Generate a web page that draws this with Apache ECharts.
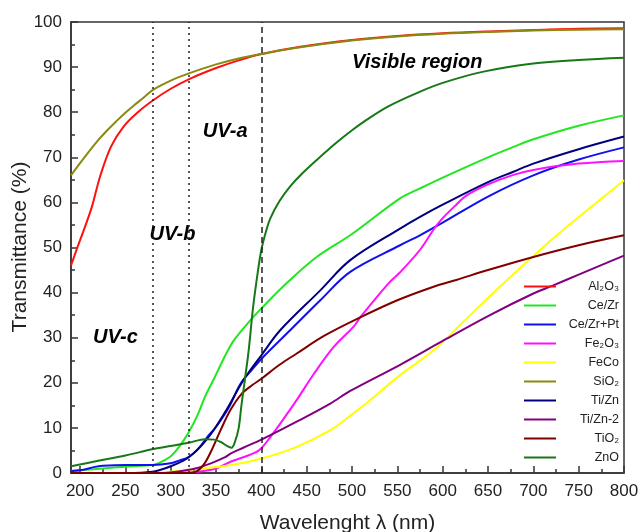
<!DOCTYPE html>
<html><head><meta charset="utf-8">
<script src="https://cdn.jsdelivr.net/npm/echarts@6/dist/echarts.min.js"></script>
<style>html,body{margin:0;padding:0;background:#fff}#c{width:639px;height:532px}</style>
</head><body><div id="c"></div>
<script>
// ---- data (wavelength nm, transmittance %) ----
const seriesNames = ['Al₂O₃','Ce/Zr','Ce/Zr+Pt','Fe₂O₃','FeCo','SiO₂','Ti/Zn','Ti/Zn-2','TiO₂','ZnO'];
const al2o3 = [[190,46],[197,50],[204,53.8],[213,59],[222,65.7],[234,72.3],[248,76.8],[265,80.2],[281,82.7],[300,85.2],[321,87.4],[350,89.8],[375,91.5],[400,92.9],[443,94.5],[500,96],[550,96.9],[600,97.5],[650,97.9],[700,98.2],[750,98.5],[800,98.6]];
const cezr = [[190,0.5],[225,1.0],[250,1.4],[281,1.8],[290,2.5],[301,3.9],[310,6],[320,9.1],[330,13],[338,17],[348,21],[360,26],[370,29.5],[388,33.9],[400,36.5],[430,42.5],[461,47.9],[500,53],[553,60.9],[575,63.1],[600,65.5],[650,70],[678,72.3],[700,74],[750,77],[800,79.3]];
const cezrpt = [[190,0.4],[205,0.8],[215,1.3],[225,1.6],[250,1.8],[280,1.8],[298,2.1],[310,2.8],[320,3.6],[330,5.3],[342,8.4],[350,10.2],[364,14.5],[377,19.8],[390,23],[401,25.5],[432,31.7],[465,38.3],[498,44.6],[553,50.5],[575,52.7],[600,55.5],[650,61.3],[700,66],[750,69.5],[800,72.2]];
const fe2o3 = [[190,0],[300,0],[330,0.3],[350,1],[366,2.5],[380,3.5],[393,4.5],[400,5.5],[410,8],[421,11],[440,16.5],[458,22],[480,28],[502,32.5],[509,34.5],[540,42],[553,44.5],[575,49.5],[590,54],[600,56.5],[615,59.5],[626,61.5],[650,64],[678,66.1],[700,67.2],[750,68.6],[800,69.2]];
const feco = [[190,0],[270,0],[300,0.3],[334,1],[366,1.7],[400,3.2],[439,5.8],[476,9.5],[500,13],[513,15],[553,21.7],[590,27.2],[620,33],[663,41.3],[707,49.4],[737,54.6],[770,60],[800,64.9]];
const sio2 = [[190,66],[200,68.7],[210,71.3],[220,73.8],[230,76],[240,78],[250,79.9],[260,81.6],[270,83.2],[280,84.9],[300,87],[320,88.6],[350,90.6],[375,91.9],[400,92.9],[443,94.4],[500,95.9],[550,96.8],[600,97.4],[650,97.8],[700,98.1],[750,98.3],[800,98.4]];
const tizn = [[190,0],[250,0],[280,0.3],[300,1.5],[320,3.5],[340,7.5],[360,13.5],[380,20.5],[400,26.1],[421,31.7],[465,40.5],[498,47.2],[553,54.2],[575,56.8],[600,59.5],[650,64.5],[678,66.8],[700,68.6],[750,71.8],[800,74.6]];
const tizn2 = [[190,0],[290,0],[310,0.4],[327,1.0],[345,2.2],[360,3.5],[366,4.3],[380,5.6],[400,7.4],[440,11.5],[476,15.4],[498,18.2],[553,24],[601,29.4],[650,34.8],[700,39.8],[722,41.6],[750,44],[788,47.2],[800,48.2]];
const tio2 = [[190,0],[323,0],[335,1.5],[345,5],[355,9.5],[366,14],[378,17.5],[390,19.5],[400,20.9],[420,24],[439,26.5],[470,30.5],[509,34.5],[550,38.3],[590,41.3],[615,42.8],[650,45],[700,47.9],[750,50.5],[800,52.7]];
const zno = [[190,1.5],[220,2.7],[250,3.9],[281,5.3],[300,6],[320,6.7],[338,7.5],[348,7.4],[356,6.8],[362,6],[367,5.6],[371,7],[375,10],[378,15],[382,21],[386,27.2],[391,37],[396,44.5],[400,49.5],[405,53.5],[410,56.5],[420,60.3],[432,63.6],[445,66.4],[465,70.1],[480,72.8],[500,76],[516,78.3],[540,81.3],[572,84.3],[600,86.5],[645,89],[700,90.8],[750,91.6],[800,92.1]];
const seriesData = [al2o3, cezr, cezrpt, fe2o3, feco, sio2, tizn, tizn2, tio2, zno];
const seriesColors = ['#ff1010','#22e622','#1010f0','#ff10ff','#ffff00','#8a8a10','#000080','#800080','#800000','#187818'];
const regionLines = [280, 320, 400];
const annotations = [[239,30.1,'UV-c'],[302,52.9,'UV-b'],[360,75.8,'UV-a'],[572,91.1,'Visible region']];
const yTitle = 'Transmittance (%)';
const xTitle = 'Wavelenght λ (nm)';

const chart = echarts.init(document.getElementById('c'));
const FONT = '"Liberation Sans", Arial, sans-serif';
const series = seriesNames.map((n,i) => ({
  name: n, type: 'line', data: seriesData[i], symbol: 'none', smooth: 0.35,
  lineStyle: {width: 2, color: seriesColors[i]}, itemStyle: {color: seriesColors[i]}, z: 3,
  animation: false
}));
series[0].markLine = {
  silent: true, symbol: 'none', animation: false,
  label: {show: false},
  data: regionLines.map((v, k) => ({xAxis: v, lineStyle: {type: k < 2 ? [2, 4] : [6, 4], color: '#222', width: 1.5}}))
};
series.push({
  name: 'notes', type: 'scatter', data: annotations, symbolSize: 0, silent: true, animation: false,
  itemStyle: {color: '#000', opacity: 1},
  label: {show: true, position: 'inside', formatter: p => p.data[2],
    fontFamily: FONT, fontWeight: 'bold', fontStyle: 'italic', fontSize: 20, color: '#000',
    textBorderWidth: 0, textShadowBlur: 0, opacity: 1}
});
chart.setOption({
  animation: false,
  backgroundColor: '#fff',
  grid: {left: 71, right: 15, top: 22, bottom: 59, containLabel: false, outerBoundsMode: 'none',
    show: true, borderColor: '#333', borderWidth: 1.5},
  graphic: [{
    type: 'text', x: 20, y: 247, rotation: Math.PI / 2, silent: true,
    style: {text: yTitle, font: '21px "Liberation Sans", Arial, sans-serif', fill: '#222',
      align: 'center', verticalAlign: 'middle'}
  }],
  legend: {
    data: seriesNames, orient: 'vertical', left: 524, top: 280, padding: 0,
    itemWidth: 32, itemHeight: 2, itemGap: 6, icon: 'rect',
    formatter: n => '{a|' + n + '}',
    textStyle: {rich: {a: {width: 58, lineHeight: 13, align: 'right', fontSize: 12.5, fontFamily: FONT, color: '#222'}}}
  },
  xAxis: {
    type: 'value', min: 190, max: 800, splitNumber: 12,
    name: xTitle, nameLocation: 'middle', nameGap: 40,
    nameTextStyle: {fontFamily: FONT, fontSize: 21, color: '#222'},
    axisLine: {show: true, lineStyle: {color: '#333', width: 1.5}},
    axisTick: {inside: true, length: 7, lineStyle: {color: '#333', width: 1.5}},
    minorTick: {show: true, splitNumber: 2, length: 4, lineStyle: {color: '#333', width: 1.5}},
    axisLabel: {showMinLabel: false, fontFamily: FONT, fontSize: 17, color: '#222', margin: 10},
    splitLine: {show: false}
  },
  yAxis: {
    type: 'value', min: 0, max: 100, interval: 10,
    axisLine: {show: true, lineStyle: {color: '#333', width: 1.5}},
    axisTick: {inside: true, length: 7, lineStyle: {color: '#333', width: 1.5}},
    minorTick: {show: true, splitNumber: 2, length: 4, lineStyle: {color: '#333', width: 1.5}},
    axisLabel: {fontFamily: FONT, fontSize: 17, color: '#222', margin: 9},
    splitLine: {show: false}
  },
  series: series
});
</script></body></html>
